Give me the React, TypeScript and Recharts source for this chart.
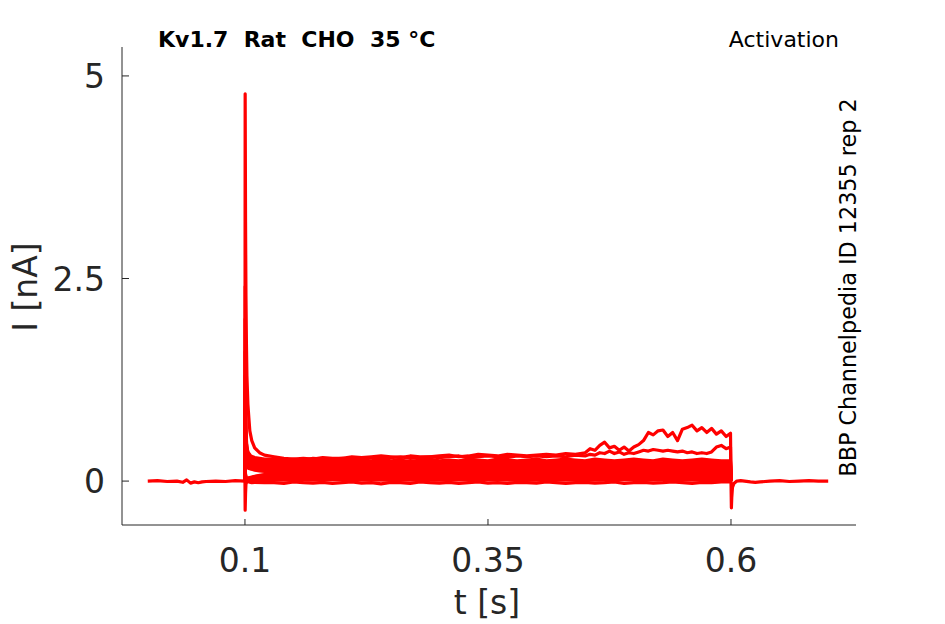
import React from 'react';
import { LineChart, Line, XAxis, YAxis } from 'recharts';

// ---------- axes ----------
const X_TICKS = [0.1, 0.35, 0.6];
const Y_TICKS = [0, 2.5, 5];
const X_DOMAIN: [number, number] = [-0.0265, 0.7286];
const Y_DOMAIN: [number, number] = [-0.542, 5.357];

// ---------- holding baseline before / after the step ----------
const PRE_T = [0.0, 0.01, 0.02, 0.03, 0.036, 0.04, 0.044, 0.048, 0.052, 0.056, 0.06, 0.07, 0.08, 0.09, 0.1];
const PRE_I = [0.0, 0.005, -0.005, 0.0, -0.015, 0.015, -0.025, -0.01, -0.02, -0.01, -0.005, 0.0, -0.005, 0.005, 0.0];

const POST_T = [0.6, 0.6004, 0.6008, 0.6015, 0.603, 0.606, 0.61, 0.62, 0.625, 0.63, 0.64, 0.65, 0.66, 0.67, 0.68, 0.69, 0.7];
const POST_I = [0.0, -0.33, -0.2, -0.08, -0.03, 0.0, 0.005, -0.01, -0.015, -0.01, 0.0, 0.005, -0.005, 0.0, 0.005, 0.0, 0.0];

// ---------- top trace (with capacitive spike) ----------
const A_T = [
  0.1, 0.1002, 0.1006, 0.101, 0.1015, 0.102, 0.103, 0.104, 0.105, 0.107, 0.11, 0.115, 0.12,
  0.13, 0.14, 0.15, 0.16, 0.17, 0.18, 0.19, 0.2, 0.21, 0.22, 0.23, 0.24, 0.25, 0.26, 0.27, 0.28, 0.29,
  0.3, 0.31, 0.32, 0.33, 0.34, 0.35, 0.36, 0.37, 0.38, 0.39, 0.4, 0.41, 0.42, 0.43, 0.44, 0.45,
  0.455, 0.46, 0.465, 0.47, 0.475, 0.48, 0.485, 0.49, 0.495, 0.5, 0.505, 0.51, 0.515, 0.52, 0.525,
  0.53, 0.535, 0.54, 0.545, 0.55, 0.555, 0.56, 0.565, 0.57, 0.575, 0.58, 0.585, 0.59, 0.595,
  0.5995, 0.6,
];
const A_I = [
  0, 4.78, 3.2, 2.3, 1.7, 1.3, 0.95, 0.78, 0.62, 0.5, 0.41, 0.35, 0.32,
  0.3, 0.28, 0.27, 0.28, 0.27, 0.29, 0.28, 0.28, 0.3, 0.29, 0.3, 0.31, 0.3, 0.29, 0.31, 0.3, 0.3,
  0.31, 0.32, 0.3, 0.31, 0.33, 0.32, 0.31, 0.33, 0.32, 0.31, 0.32, 0.33, 0.32, 0.34, 0.33, 0.35,
  0.4, 0.38, 0.44, 0.48, 0.41, 0.43, 0.38, 0.42, 0.37, 0.42, 0.45, 0.5, 0.6, 0.57, 0.62,
  0.63, 0.55, 0.6, 0.5, 0.64, 0.66, 0.69, 0.62, 0.66, 0.6, 0.65, 0.58, 0.62, 0.55,
  0.59, 0,
];

// ---------- second trace ----------
const B_T = [
  0.1, 0.1002, 0.101, 0.103, 0.106, 0.11, 0.12,
  0.13, 0.14, 0.15, 0.16, 0.17, 0.18, 0.19, 0.2, 0.21, 0.22, 0.23, 0.24, 0.25, 0.26, 0.27, 0.28, 0.29,
  0.3, 0.31, 0.32, 0.33, 0.34, 0.35, 0.36, 0.37, 0.38, 0.39, 0.4, 0.41, 0.42, 0.43, 0.44, 0.45,
  0.455, 0.46, 0.465, 0.47, 0.475, 0.48, 0.485, 0.49, 0.495, 0.5, 0.505, 0.51, 0.515, 0.52, 0.525,
  0.53, 0.535, 0.54, 0.545, 0.55, 0.555, 0.56, 0.565, 0.57, 0.575, 0.58, 0.585, 0.59, 0.595,
  0.5995, 0.6,
];
const B_I = [
  0, 0.9, 0.5, 0.36, 0.31, 0.29, 0.27,
  0.27, 0.26, 0.27, 0.26, 0.28, 0.27, 0.27, 0.28, 0.27, 0.28, 0.29, 0.28, 0.29, 0.3, 0.28, 0.29, 0.3,
  0.29, 0.3, 0.31, 0.29, 0.3, 0.31, 0.3, 0.29, 0.31, 0.3, 0.31, 0.3, 0.31, 0.3, 0.32, 0.31,
  0.33, 0.32, 0.35, 0.34, 0.37, 0.34, 0.36, 0.33, 0.35, 0.34, 0.36, 0.38, 0.37, 0.39, 0.38,
  0.37, 0.38, 0.37, 0.36, 0.37, 0.35, 0.36, 0.34, 0.35, 0.34, 0.36, 0.42, 0.44, 0.4,
  0.42, 0,
];

// ---------- upper and lower edge traces of the dense band ----------
const EDGE_T = [
  0.13, 0.14, 0.15, 0.16, 0.17, 0.18, 0.19, 0.2, 0.21, 0.22, 0.23, 0.24, 0.25, 0.26, 0.27, 0.28,
  0.29, 0.3, 0.31, 0.32, 0.33, 0.34, 0.35, 0.36, 0.37, 0.38, 0.39, 0.4, 0.41, 0.42, 0.43, 0.44,
  0.45, 0.46, 0.47, 0.48, 0.49, 0.5, 0.51, 0.52, 0.53, 0.54, 0.55, 0.56, 0.57, 0.58, 0.59,
  0.5995, 0.6,
];
const C_START_T = [0.1, 0.1002, 0.101, 0.103, 0.106, 0.11, 0.12];
const C_START_I = [0, 0.7, 0.45, 0.33, 0.28, 0.26, 0.25];
const C_I = [
  0.25, 0.24, 0.25, 0.26, 0.24, 0.25, 0.26, 0.25, 0.24, 0.26, 0.25, 0.27, 0.25, 0.26, 0.24, 0.26,
  0.27, 0.25, 0.26, 0.25, 0.27, 0.26, 0.25, 0.27, 0.26, 0.25, 0.26, 0.27, 0.25, 0.26, 0.27, 0.26,
  0.25, 0.27, 0.26, 0.25, 0.26, 0.27, 0.26, 0.25, 0.27, 0.26, 0.25, 0.26, 0.27, 0.26, 0.25,
  0.25, 0,
];
const D_START_T = [0.1, 0.1002, 0.1006, 0.101, 0.102, 0.104, 0.107, 0.11, 0.12];
const D_START_I = [0, -0.36, -0.15, -0.04, 0.0, -0.01, -0.02, -0.015, -0.02];
const D_I = [
  -0.02, -0.03, -0.01, -0.02, -0.025, -0.015, -0.03, -0.02, -0.01, -0.025, -0.02, -0.035, -0.015, -0.02, -0.03, -0.01,
  -0.02, -0.025, -0.015, -0.03, -0.02, -0.01, -0.025, -0.02, -0.03, -0.015, -0.02, -0.025, -0.01, -0.02, -0.03, -0.02,
  -0.015, -0.025, -0.02, -0.01, -0.03, -0.02, -0.015, -0.025, -0.02, -0.01, -0.02, -0.03, -0.015, -0.02, -0.01,
  -0.01, 0,
];

// ---------- interior traces of the dense band ----------
const BAND_T = [0.1, 0.1002, 0.1006, 0.101, 0.102, 0.104, 0.107, 0.11, 0.115, 0.12, 0.13, 0.15, 0.2, 0.25, 0.3, 0.35, 0.4, 0.45, 0.5, 0.55, 0.5995, 0.6];
const L1 = [0, 0.05, 0.03, 0.0, -0.01, 0.0, 0.005, 0.01, 0.01, 0.015, 0.01, 0.01, 0.015, 0.01, 0.01, 0.015, 0.01, 0.01, 0.015, 0.01, 0.01, 0];
const L1B = [0, 0.07, 0.04, 0.01, 0.005, 0.01, 0.015, 0.02, 0.02, 0.025, 0.025, 0.025, 0.03, 0.025, 0.025, 0.03, 0.025, 0.025, 0.03, 0.025, 0.025, 0];
const L2 = [0, 0.1, 0.06, 0.03, 0.02, 0.02, 0.025, 0.03, 0.035, 0.04, 0.04, 0.04, 0.045, 0.04, 0.04, 0.045, 0.04, 0.045, 0.04, 0.04, 0.04, 0];
const L2B = [0, 0.12, 0.07, 0.035, 0.025, 0.03, 0.035, 0.04, 0.045, 0.05, 0.055, 0.055, 0.06, 0.055, 0.055, 0.06, 0.055, 0.06, 0.055, 0.055, 0.055, 0];
const L3 = [0, 0.15, 0.08, 0.04, 0.03, 0.035, 0.04, 0.05, 0.06, 0.065, 0.07, 0.07, 0.075, 0.07, 0.07, 0.075, 0.07, 0.075, 0.07, 0.07, 0.07, 0];
const L3B = [0, 0.13, 0.075, 0.04, 0.03, 0.035, 0.045, 0.055, 0.065, 0.075, 0.08, 0.085, 0.09, 0.085, 0.085, 0.09, 0.085, 0.09, 0.085, 0.085, 0.085, 0];
const L4 = [0, 0.12, 0.07, 0.04, 0.03, 0.04, 0.05, 0.06, 0.07, 0.08, 0.09, 0.1, 0.105, 0.1, 0.1, 0.105, 0.1, 0.105, 0.1, 0.1, 0.1, 0];
const L4B = [0, 0.5, 0.3, 0.22, 0.18, 0.155, 0.145, 0.135, 0.125, 0.12, 0.115, 0.115, 0.12, 0.115, 0.115, 0.12, 0.115, 0.12, 0.115, 0.115, 0.115, 0];
const L5 = [0, 0.6, 0.35, 0.25, 0.2, 0.16, 0.15, 0.145, 0.14, 0.135, 0.13, 0.13, 0.135, 0.13, 0.13, 0.135, 0.13, 0.135, 0.13, 0.13, 0.13, 0];
const L5B = [0, 0.75, 0.42, 0.29, 0.23, 0.19, 0.17, 0.165, 0.155, 0.15, 0.145, 0.145, 0.15, 0.145, 0.145, 0.15, 0.145, 0.15, 0.145, 0.145, 0.145, 0];
const L6 = [0, 0.9, 0.5, 0.33, 0.25, 0.21, 0.19, 0.18, 0.17, 0.165, 0.16, 0.16, 0.165, 0.16, 0.16, 0.165, 0.16, 0.165, 0.16, 0.16, 0.16, 0];
const L6B = [0, 1.1, 0.6, 0.38, 0.28, 0.23, 0.205, 0.195, 0.185, 0.18, 0.175, 0.175, 0.18, 0.175, 0.175, 0.18, 0.175, 0.18, 0.175, 0.175, 0.175, 0];
const L7 = [0, 1.3, 0.7, 0.42, 0.3, 0.25, 0.22, 0.21, 0.2, 0.195, 0.19, 0.19, 0.195, 0.19, 0.19, 0.195, 0.19, 0.195, 0.19, 0.19, 0.19, 0];
const L7B = [0, 1.6, 0.85, 0.48, 0.33, 0.27, 0.24, 0.225, 0.215, 0.21, 0.205, 0.205, 0.21, 0.205, 0.205, 0.21, 0.205, 0.21, 0.205, 0.205, 0.205, 0];
const L8 = [0, 2.0, 1.0, 0.55, 0.37, 0.3, 0.26, 0.24, 0.23, 0.225, 0.22, 0.22, 0.225, 0.22, 0.22, 0.225, 0.22, 0.225, 0.22, 0.22, 0.22, 0];
const L8B = [0, 2.4, 1.2, 0.62, 0.4, 0.32, 0.28, 0.26, 0.245, 0.24, 0.235, 0.235, 0.24, 0.235, 0.235, 0.24, 0.235, 0.24, 0.235, 0.235, 0.235, 0];

type Pt = { t: number; i: number };
const zip = (ts: number[], vs: number[]): Pt[] => ts.map((t, k) => ({ t, i: vs[k] }));

const BAND_TRACES: Pt[][] = [L1, L1B, L2, L2B, L3, L3B, L4, L4B, L5, L5B, L6, L6B, L7, L7B, L8, L8B].map((v) => zip(BAND_T, v));

const OTHER_TRACES: Pt[][] = [
  zip(PRE_T, PRE_I),
  zip(POST_T, POST_I),
  zip(D_START_T.concat(EDGE_T), D_START_I.concat(D_I)),
  zip(C_START_T.concat(EDGE_T), C_START_I.concat(C_I)),
  zip(B_T, B_I),
  zip(A_T, A_I),
];

const FONT = '"DejaVu Sans", sans-serif';
const AXIS = '#262626';
const RED = '#ff0000';

function XTick(props: any) {
  const { x, y, payload } = props;
  const axisY = y - 8;
  return (
    <g>
      <line x1={x} x2={x} y1={axisY} y2={axisY - 6} stroke={AXIS} strokeWidth={1} />
      <text x={x} y={axisY + 47} textAnchor="middle" fontFamily={FONT} fontSize={33} fill={AXIS}>
        {String(payload.value)}
      </text>
    </g>
  );
}

function YTick(props: any) {
  const { x, y, payload } = props;
  const axisX = x + 8;
  return (
    <g>
      <line x1={axisX} x2={axisX + 7} y1={y} y2={y} stroke={AXIS} strokeWidth={1} />
      <text x={axisX - 17} y={y + 12} textAnchor="end" fontFamily={FONT} fontSize={33} fill={AXIS}>
        {String(payload.value)}
      </text>
    </g>
  );
}

export default function App() {
  return (
    <div style={{ position: 'absolute', left: 0, top: 0, width: 945, height: 624, background: '#fff' }}>
      <LineChart width={945} height={624} margin={{ top: 47, right: 89, bottom: 69, left: 62 }}>
        <XAxis
          type="number"
          dataKey="t"
          domain={X_DOMAIN}
          ticks={X_TICKS}
          allowDataOverflow
          height={30}
          tickSize={6}
          tickMargin={2}
          tickLine={false}
          axisLine={{ stroke: AXIS, strokeWidth: 1 }}
          tick={<XTick />}
        />
        <YAxis
          type="number"
          domain={Y_DOMAIN}
          ticks={Y_TICKS}
          allowDataOverflow
          width={60}
          tickSize={6}
          tickMargin={2}
          tickLine={false}
          axisLine={{ stroke: AXIS, strokeWidth: 1 }}
          tick={<YTick />}
        />
        {BAND_TRACES.map((d, k) => (
          <Line
            key={'b' + k}
            data={d}
            dataKey="i"
            type="linear"
            stroke={RED}
            strokeWidth={3.2}
            strokeLinejoin="round"
            dot={false}
            activeDot={false}
            isAnimationActive={false}
          />
        ))}
        {OTHER_TRACES.map((d, k) => (
          <Line
            key={'o' + k}
            data={d}
            dataKey="i"
            type="linear"
            stroke={RED}
            strokeWidth={3.2}
            strokeLinejoin="round"
            dot={false}
            activeDot={false}
            isAnimationActive={false}
          />
        ))}
      </LineChart>
      <svg
        width={945}
        height={624}
        style={{ position: 'absolute', left: 0, top: 0, pointerEvents: 'none' }}
      >
        <text x={158} y={47} fontFamily={FONT} fontWeight="bold" fontSize={22} fill="#000" style={{ whiteSpace: 'pre' }}>
          {'Kv1.7  Rat  CHO  35 °C'}
        </text>
        <text x={839} y={47} textAnchor="end" fontFamily={FONT} fontSize={22} fill="#000">
          Activation
        </text>
        <text
          transform="translate(856,287.5) rotate(-90)"
          textAnchor="middle"
          fontFamily={FONT}
          fontSize={22.3}
          fill="#000"
        >
          BBP Channelpedia ID 12355 rep 2
        </text>
        <text
          transform="translate(37,287) rotate(-90)"
          textAnchor="middle"
          fontFamily={FONT}
          fontSize={33}
          fill={AXIS}
        >
          I [nA]
        </text>
        <text x={487} y={614} textAnchor="middle" fontFamily={FONT} fontSize={33} fill={AXIS}>
          t [s]
        </text>
      </svg>
    </div>
  );
}
